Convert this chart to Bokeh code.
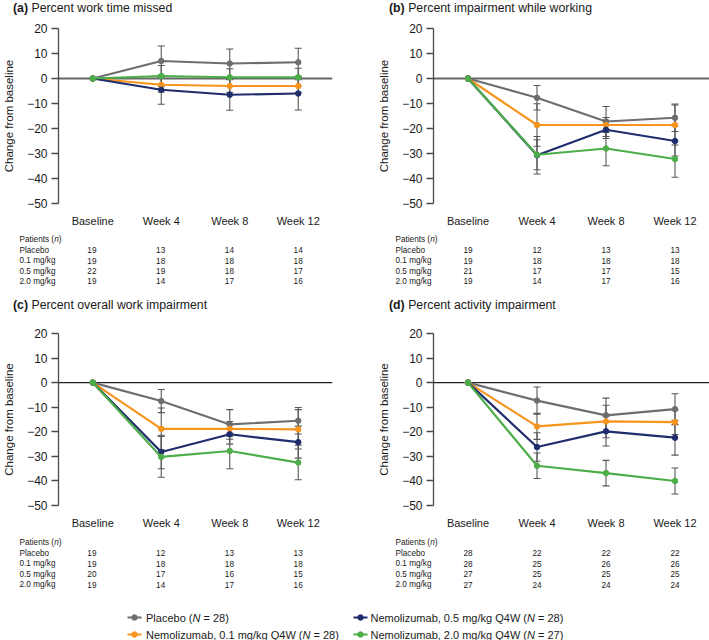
from bokeh.plotting import figure
from bokeh.models import Range1d, FixedTicker, Span, Whisker, TeeHead, ColumnDataSource
from bokeh.layouts import column, row
from bokeh.embed import file_html
from bokeh.resources import INLINE
from bokeh.core.properties import value

# ---------------- data ----------------
weeks = ["Baseline", "Week 4", "Week 8", "Week 12"]
groups = ["Placebo", "0.1 mg/kg", "0.5 mg/kg", "2.0 mg/kg"]
legend_names = ["Placebo", "Nemolizumab, 0.1 mg/kg Q4W",
                "Nemolizumab, 0.5 mg/kg Q4W", "Nemolizumab, 2.0 mg/kg Q4W"]
legend_n = [28, 28, 28, 27]
colors = ["#6d6e71", "#f7941d", "#1f2d6e", "#4dae49"]
y_ticks = [-50, -40, -30, -20, -10, 0, 10, 20]
y_tick_labels = ["\u221250", "\u221240", "\u221230", "\u221220", "\u221210", "0", "10", "20"]

panel_tags = ["(a)", "(b)", "(c)", "(d)"]
panel_titles = ["Percent work time missed", "Percent impairment while working",
                "Percent overall work impairment", "Percent activity impairment"]

# (a) Percent work time missed
a_placebo = [0, 7.0, 6.0, 6.5]
a_d01 = [0, -2.5, -3.0, -3.0]
a_d05 = [0, -4.5, -6.5, -6.0]
a_d20 = [0, 1.0, 0.5, 0.5]
a_err_placebo = [0, 6.0, 5.8, 5.6]
a_err_d01 = [0, 3.0, 2.5, 2.5]
a_err_d05 = [0, 5.8, 6.2, 6.6]
a_err_d20 = [0, 4.2, 3.4, 3.6]
a_n_placebo = [19, 13, 14, 14]
a_n_d01 = [19, 18, 18, 18]
a_n_d05 = [22, 19, 18, 17]
a_n_d20 = [19, 14, 17, 16]

# (b) Percent impairment while working
b_placebo = [0, -7.7, -17.2, -15.7]
b_d01 = [0, -18.6, -18.6, -18.6]
b_d05 = [0, -30.7, -20.5, -25.0]
b_d20 = [0, -30.5, -28.0, -32.2]
b_err_placebo = [0, 4.9, 6.0, 5.5]
b_err_d01 = [0, 8.5, 3.0, 8.0]
b_err_d05 = [0, 7.5, 3.5, 6.0]
b_err_d20 = [0, 6.0, 6.9, 7.3]
b_n_placebo = [19, 12, 13, 13]
b_n_d01 = [19, 18, 18, 18]
b_n_d05 = [21, 17, 17, 15]
b_n_d20 = [19, 14, 17, 16]

# (c) Percent overall work impairment
c_placebo = [0, -7.5, -17.0, -15.5]
c_d01 = [0, -18.8, -18.8, -19.0]
c_d05 = [0, -28.2, -21.0, -24.2]
c_d20 = [0, -30.2, -27.8, -32.5]
c_err_placebo = [0, 4.7, 6.0, 5.4]
c_err_d01 = [0, 8.5, 3.0, 8.0]
c_err_d05 = [0, 6.8, 4.0, 6.5]
c_err_d20 = [0, 8.3, 7.2, 7.0]
c_n_placebo = [19, 12, 13, 13]
c_n_d01 = [19, 18, 18, 18]
c_n_d05 = [20, 17, 16, 15]
c_n_d20 = [19, 14, 17, 16]

# (d) Percent activity impairment
d_placebo = [0, -7.3, -13.3, -10.8]
d_d01 = [0, -17.8, -15.8, -16.1]
d_d05 = [0, -26.2, -19.8, -22.4]
d_d20 = [0, -33.8, -36.8, -40.0]
d_err_placebo = [0, 5.5, 7.0, 6.3]
d_err_d01 = [0, 5.3, 6.6, 5.0]
d_err_d05 = [0, 5.8, 6.0, 7.1]
d_err_d20 = [0, 5.2, 5.2, 5.3]
d_n_placebo = [28, 22, 22, 22]
d_n_d01 = [28, 25, 26, 26]
d_n_d05 = [27, 25, 25, 25]
d_n_d20 = [27, 24, 24, 24]

panels = [
    dict(means=[a_placebo, a_d01, a_d05, a_d20], errs=[a_err_placebo, a_err_d01, a_err_d05, a_err_d20],
         ns=[a_n_placebo, a_n_d01, a_n_d05, a_n_d20]),
    dict(means=[b_placebo, b_d01, b_d05, b_d20], errs=[b_err_placebo, b_err_d01, b_err_d05, b_err_d20],
         ns=[b_n_placebo, b_n_d01, b_n_d05, b_n_d20]),
    dict(means=[c_placebo, c_d01, c_d05, c_d20], errs=[c_err_placebo, c_err_d01, c_err_d05, c_err_d20],
         ns=[c_n_placebo, c_n_d01, c_n_d05, c_n_d20]),
    dict(means=[d_placebo, d_d01, d_d05, d_d20], errs=[d_err_placebo, d_err_d01, d_err_d05, d_err_d20],
         ns=[d_n_placebo, d_n_d01, d_n_d05, d_n_d20]),
]

# ---------------- style / geometry ----------------
FONT = "Liberation Sans"
TXT = "#1a1a1a"
ERR = "#575757"
AXC = "#4a4a4a"
NBSP = "\u00a0"

AW = {' ': 278, '\u00a0': 278, '(': 333, ')': 333, '=': 584, ',': 278, '.': 278, '/': 278}
for ch in "0123456789":
    AW[ch] = 556
AW.update(dict(zip("ABCDEFGHIJKLMNOPQRSTUVWXYZ",
                   [667, 667, 722, 722, 667, 611, 778, 722, 278, 500, 667, 556, 833, 722, 778, 667, 778, 722,
                    667, 611, 722, 667, 944, 667, 667, 611])))
AW.update(dict(zip("abcdefghijklmnopqrstuvwxyz",
                   [556, 556, 500, 556, 556, 278, 556, 556, 222, 222, 500, 222, 833, 556, 556, 556, 556, 333,
                    500, 278, 556, 500, 722, 500, 500, 500])))
AWB = {'(': 333, ')': 333, 'a': 556, 'b': 611, 'c': 556, 'd': 611, ' ': 278}


def tw(s, fs, bold=False):
    tab = AWB if bold else AW
    return sum(tab.get(ch, 556) for ch in s) * fs / 1000.0


COLS = [dict(W=354, bl=57, br=22), dict(W=355, bl=79, br=0)]
ROWS = [dict(HH=15, ty=7, H=214, bt=8, bb=21, TH=62, trows=[10.3, 20.7, 31.1, 41.5, 51.9],
             zc="#666666", zw=2.0),
        dict(HH=25, ty=13, H=215, bt=12, bb=20, TH=61, trows=[11, 21.5, 32, 42.5, 53],
             zc="#222222", zw=1.3)]


def blank(w, h, xr, yr):
    f = figure(width=w, height=h, x_range=xr, y_range=yr, x_axis_type=None, y_axis_type=None,
               min_border_left=0, min_border_right=0, min_border_top=0, min_border_bottom=0,
               output_backend="svg", toolbar_location=None, title=None)
    f.grid.visible = False
    f.outline_line_color = None
    f.background_fill_color = "white"
    f.border_fill_color = "white"
    return f


def make_panel(k, col, rw):
    c = COLS[col]
    r = ROWS[rw]
    pn = panels[k]
    w = c["W"]
    h = r["H"]
    bl, br, bt, bb = c["bl"], c["br"], r["bt"], r["bb"]
    fw = w - bl - br
    x0, x1 = -0.5, len(weeks) - 0.5
    y0, y1 = -52, 22
    dxp = (x1 - x0) / fw

    # ---- header with title ----
    hd = blank(w, r["HH"], Range1d(0, w), Range1d(r["HH"], 0))
    tfs = 12.3
    tx = bl - 44.5
    hd.text(x=[tx], y=[r["ty"]], text=[panel_tags[k]], text_font=value(FONT), text_font_size=value(f"{tfs}px"),
            text_font_style="bold", text_baseline="middle", text_align="left", text_color=TXT)
    hd.text(x=[tx + tw(panel_tags[k] + " ", tfs, True)], y=[r["ty"]], text=[panel_titles[k]],
            text_font=value(FONT), text_font_size=value(f"{tfs}px"),
            text_baseline="middle", text_align="left", text_color=TXT)

    # ---- chart ----
    p = figure(width=w, height=h, x_range=Range1d(x0, x1), y_range=Range1d(y0, y1),
               min_border_left=bl, min_border_right=br, min_border_top=bt, min_border_bottom=bb,
               output_backend="svg", toolbar_location=None, title=None)
    p.grid.visible = False
    p.outline_line_color = None
    p.background_fill_color = "white"
    p.border_fill_color = "white"

    ya = p.yaxis[0]
    ya.ticker = FixedTicker(ticks=y_ticks)
    ya.major_label_overrides = dict(zip(y_ticks, y_tick_labels))
    ya.bounds = (y_ticks[0], y_ticks[-1])
    ya.axis_line_color = AXC
    ya.axis_line_width = 1.3
    ya.major_tick_line_color = AXC
    ya.major_tick_line_width = 1.3
    ya.major_tick_out = 7
    ya.major_tick_in = 0
    ya.minor_tick_out = 0
    ya.minor_tick_in = 0
    ya.major_label_standoff = 4
    ya.major_label_text_font = FONT
    ya.major_label_text_font_size = "12px"
    ya.major_label_text_color = TXT
    ya.axis_label = "Change from baseline"
    ya.axis_label_text_font = FONT
    ya.axis_label_text_font_style = "normal"
    ya.axis_label_text_font_size = "11.5px"
    ya.axis_label_text_color = TXT
    ya.axis_label_standoff = 9

    xa = p.xaxis[0]
    xa.ticker = FixedTicker(ticks=list(range(len(weeks))))
    xa.major_label_overrides = {i: wk for i, wk in enumerate(weeks)}
    xa.axis_line_color = None
    xa.major_tick_line_color = None
    xa.minor_tick_line_color = None
    xa.major_tick_out = 0
    xa.major_tick_in = 0
    xa.minor_tick_out = 0
    xa.major_label_standoff = 6
    xa.major_label_text_font = FONT
    xa.major_label_text_font_size = "11px"
    xa.major_label_text_color = TXT

    p.add_layout(Span(location=0, dimension="width", line_color=r["zc"], line_width=r["zw"], level="underlay"))

    xs = list(range(len(weeks)))
    for gi in range(len(groups)):
        m = pn["means"][gi]
        e = pn["errs"][gi]
        src = ColumnDataSource(dict(x=xs[1:], upper=[m[j] + e[j] for j in xs[1:]],
                                    lower=[m[j] - e[j] for j in xs[1:]]))
        p.add_layout(Whisker(base="x", upper="upper", lower="lower", source=src,
                             line_color=ERR, line_width=1.1, level="underlay",
                             upper_head=TeeHead(size=7, line_color=ERR, line_width=1.1),
                             lower_head=TeeHead(size=7, line_color=ERR, line_width=1.1)))
    for gi in range(len(groups)):
        m = pn["means"][gi]
        p.line(xs, m, line_color=colors[gi], line_width=2.2)
        p.scatter(xs, m, marker="circle", size=5.5, fill_color=colors[gi], line_color=colors[gi])

    # ---- patients table ----
    tx0 = x0 - bl * dxp
    tx1 = x1 + br * dxp
    t = blank(w, r["TH"], Range1d(tx0, tx1), Range1d(r["TH"], 0))
    fs = 8.2
    fsv = value(f"{fs}px")
    lab_x = tx0 + (bl - 38) * dxp
    ry = r["trows"]
    h1 = "Patients ("
    t.text(x=[lab_x], y=[ry[0]], text=[h1], text_font=value(FONT), text_font_size=fsv,
           text_baseline="middle", text_align="left", text_color=TXT)
    nx = lab_x + tw(h1, fs) * dxp
    t.text(x=[nx], y=[ry[0]], text=["n"], text_font=value(FONT), text_font_size=fsv, text_font_style="italic",
           text_baseline="middle", text_align="left", text_color=TXT)
    t.text(x=[nx + tw("n", fs) * dxp], y=[ry[0]], text=[")"], text_font=value(FONT), text_font_size=fsv,
           text_baseline="middle", text_align="left", text_color=TXT)
    t.text(x=[lab_x] * len(groups), y=ry[1:], text=groups, text_font=value(FONT), text_font_size=fsv,
           text_baseline="middle", text_align="left", text_color=TXT)
    cx, cy, ct = [], [], []
    for gi in range(len(groups)):
        for j in xs:
            cx.append(j)
            cy.append(ry[gi + 1])
            ct.append(str(pn["ns"][gi][j]))
    t.text(x=cx, y=cy, text=ct, text_font=value(FONT), text_font_size=fsv,
           text_baseline="middle", text_align="center", text_color=TXT)
    return hd, p, t


ha, ca, ta = make_panel(0, 0, 0)
hb, cb, tb = make_panel(1, 1, 0)
hc, cc, tc = make_panel(2, 0, 1)
hdd, cd, td = make_panel(3, 1, 1)

# ---------------- legend ----------------
LW, LH = 709, 48
lg = blank(LW, LH, Range1d(0, LW), Range1d(LH, 0))
lfs = 11
lfv = value(f"{lfs}px")
slots = [(127, 141, 134, 145.5, 25), (127, 141, 134, 145.5, 42), (353, 367, 360, 370, 25), (353, 367, 360, 370, 42)]
for gi in range(len(groups)):
    xa0, xa1, xd, xt, yy = slots[gi]
    lg.segment(x0=[xa0], y0=[yy], x1=[xa1], y1=[yy], line_color=colors[gi], line_width=2.2)
    lg.scatter([xd], [yy], marker="circle", size=5.5, fill_color=colors[gi], line_color=colors[gi])
    s1 = legend_names[gi] + " ("
    s3 = f"{NBSP}={NBSP}{legend_n[gi]})"
    lg.text(x=[xt], y=[yy], text=[s1], text_font=value(FONT), text_font_size=lfv,
            text_baseline="middle", text_align="left", text_color=TXT)
    x2 = xt + tw(s1, lfs)
    lg.text(x=[x2], y=[yy], text=["N"], text_font=value(FONT), text_font_size=lfv, text_font_style="italic",
            text_baseline="middle", text_align="left", text_color=TXT)
    lg.text(x=[x2 + tw("N", lfs)], y=[yy], text=[s3], text_font=value(FONT), text_font_size=lfv,
            text_baseline="middle", text_align="left", text_color=TXT)

layout = column(row(ha, hb), row(ca, cb), row(ta, tb),
                row(hc, hdd), row(cc, cd), row(tc, td), lg)

open("out.html", "w").write(file_html(layout, INLINE))
